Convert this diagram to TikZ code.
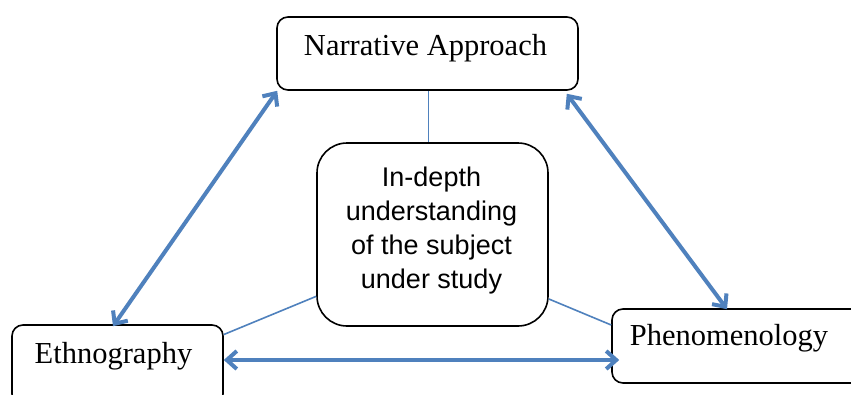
\documentclass[tikz,border=0pt]{standalone}
\usepackage{fontspec}
\setmainfont{Liberation Serif}
\newfontfamily\arialish{Liberation Sans}
\usetikzlibrary{arrows.meta}
\definecolor{linkblue}{HTML}{4F81BD}
\tikzset{
  method/.style={draw=black, line width=1.6pt, rounded corners=11pt, fill=white, inner sep=0pt},
  core/.style={draw=black, line width=1.6pt, rounded corners=30pt, fill=white, inner sep=0pt},
  methodtext/.style={font=\fontsize{30.5}{36}\selectfont, inner sep=0pt, anchor=base},
  coretext/.style={font=\arialish\fontsize{27}{33.7}\selectfont, align=center, inner sep=0pt},
  link/.style={draw=linkblue, line width=1.6pt},
  twoway/.style={draw=linkblue, line width=4pt,
    {Straight Barb[length=10pt,width=18pt,line width=4pt]}-{Straight Barb[length=10pt,width=18pt,line width=4pt]}}
}
\begin{document}
\begin{tikzpicture}[x=1pt,y=-1pt]
  \useasboundingbox (0,0) rectangle (851,394);
  \clip (0,0) rectangle (851,394);
  \fill[white] (0,0) rectangle (851,394);

  % the three research approaches
  \node[method, minimum width=301pt, minimum height=73pt] (nar) at (427.5,53.5) {};
  \node[method, minimum width=211pt, minimum height=80pt] (eth) at (117.5,365) {};
  \node[method, minimum width=300pt, minimum height=74pt] (phen) at (762,346) {};

  % the shared aim in the middle
  \node[core, minimum width=231pt, minimum height=183pt] (ctr) at (432.5,234.5) {};

  % thin links from each approach to the aim
  \coordinate (ns) at ([xshift=1pt]nar.south);
  \draw[link] (ns) -- (ns |- ctr.north);
  \draw[link] (ctr.208.4) -- (eth.16.4);
  \draw[link] (ctr.331.6) -- (phen.west |- 0,325);

  % two-way arrows between the approaches
  \coordinate (nl) at ([xshift=1pt]nar.south west);
  \coordinate (nr) at ([xshift=-12pt,yshift=-3pt]nar.south east);
  \coordinate (et) at ([xshift=-4.5pt,yshift=-2pt]eth.north);
  \coordinate (pt) at ([xshift=-35pt,yshift=-1pt]phen.north);
  \coordinate (er) at ([yshift=5pt]eth.east);
  \coordinate (pl) at ([xshift=8pt]phen.west |- er);
  \draw[twoway] (nl) -- (et);
  \draw[twoway] (nr) -- (pt);
  \draw[twoway] (er) -- (pl);

  % labels
  \node[methodtext] (nartext) at (425.5,55) {Narrative Approach};
  \node[methodtext] (ethtext) at (113.5,363) {Ethnography};
  \node[methodtext] (phentext) at (729,345) {Phenomenology};
  \node[coretext] (ctrtext) at (431.5,230.5) {In-depth\\understanding\\of the subject\\under study};
\end{tikzpicture}
\end{document}
